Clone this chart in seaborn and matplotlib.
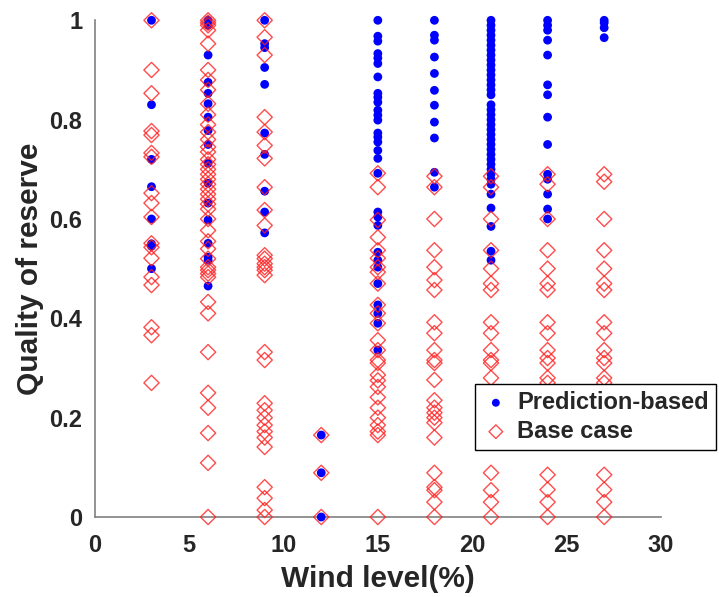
import matplotlib
matplotlib.use("Agg")
import matplotlib.pyplot as plt
import seaborn as sns
import pandas as pd

# ---- data ----
wind_levels = [3, 6, 9, 12, 15, 18, 21, 24, 27]

pred_3 = [1.0, 0.83, 0.72, 0.665, 0.60, 0.55, 0.545, 0.50]
pred_6 = [1.0, 0.99, 0.93, 0.875, 0.853, 0.832, 0.805, 0.778, 0.75, 0.712,
          0.672, 0.632, 0.598, 0.551, 0.523, 0.517, 0.465]
pred_9 = [1.0, 0.953, 0.945, 0.905, 0.871, 0.773, 0.73, 0.656, 0.614, 0.572]
pred_12 = [0.165, 0.089, 0.0]
pred_15 = [1.0, 0.968, 0.958, 0.933, 0.924, 0.913, 0.886, 0.853, 0.845, 0.835,
           0.819, 0.809, 0.799, 0.773, 0.765, 0.755, 0.738, 0.722, 0.692, 0.614,
           0.604, 0.587, 0.533, 0.517, 0.503, 0.47, 0.427, 0.41, 0.39, 0.336]
pred_18 = [1.0, 0.97, 0.96, 0.926, 0.893, 0.859, 0.829, 0.795, 0.763, 0.694, 0.664]
pred_21 = [1.0, 0.99, 0.98, 0.97, 0.96, 0.95, 0.94, 0.93, 0.92, 0.91, 0.90, 0.89,
           0.88, 0.87, 0.86, 0.85, 0.83, 0.82, 0.81, 0.80, 0.79, 0.78, 0.77, 0.76,
           0.75, 0.74, 0.73, 0.72, 0.71, 0.70, 0.69, 0.68, 0.67, 0.65, 0.622,
           0.585, 0.535, 0.517]
pred_24 = [1.0, 0.99, 0.98, 0.96, 0.93, 0.87, 0.85, 0.805, 0.75, 0.69, 0.68,
           0.65, 0.62, 0.60]
pred_27 = [1.0, 0.995, 0.985, 0.965]

base_3 = [1.0, 0.90, 0.853, 0.777, 0.769, 0.733, 0.725, 0.652, 0.632, 0.604,
          0.551, 0.543, 0.521, 0.483, 0.467, 0.382, 0.366, 0.27]
base_6 = [1.0, 0.995, 0.99, 0.98, 0.953, 0.90, 0.88, 0.86, 0.832, 0.81, 0.79,
          0.775, 0.76, 0.745, 0.735, 0.72, 0.71, 0.70, 0.69, 0.68, 0.67, 0.66,
          0.65, 0.64, 0.63, 0.62, 0.60, 0.577, 0.555, 0.54, 0.52, 0.503, 0.497,
          0.49, 0.483, 0.433, 0.41, 0.332, 0.25, 0.22, 0.169, 0.109, 0.0]
base_9 = [1.0, 0.966, 0.93, 0.805, 0.775, 0.748, 0.722, 0.664, 0.618, 0.587,
          0.527, 0.52, 0.51, 0.503, 0.497, 0.487, 0.332, 0.316, 0.229, 0.215,
          0.2, 0.185, 0.172, 0.16, 0.141, 0.06, 0.038, 0.014, 0.0]
base_12 = [0.165, 0.089, 0.0]
base_15 = [0.692, 0.664, 0.598, 0.563, 0.537, 0.521, 0.503, 0.493, 0.47, 0.427,
           0.41, 0.39, 0.356, 0.336, 0.316, 0.31, 0.286, 0.275, 0.262, 0.241,
           0.22, 0.2, 0.185, 0.172, 0.165, 0.0]
base_18 = [0.686, 0.664, 0.60, 0.537, 0.503, 0.477, 0.457, 0.392, 0.37, 0.336,
           0.316, 0.31, 0.276, 0.235, 0.22, 0.21, 0.2, 0.19, 0.16, 0.089, 0.06,
           0.054, 0.03, 0.0]
base_21 = [0.686, 0.664, 0.60, 0.537, 0.50, 0.47, 0.457, 0.392, 0.37, 0.336,
           0.316, 0.31, 0.28, 0.235, 0.21, 0.19, 0.089, 0.054, 0.03, 0.0]
base_24 = [0.69, 0.67, 0.60, 0.537, 0.50, 0.47, 0.457, 0.392, 0.37, 0.336, 0.32,
           0.31, 0.28, 0.27, 0.085, 0.055, 0.03, 0.0]
base_27 = [0.69, 0.675, 0.60, 0.537, 0.50, 0.47, 0.457, 0.392, 0.37, 0.336, 0.32,
           0.31, 0.28, 0.27, 0.085, 0.055, 0.03, 0.0]

pred_cols = [pred_3, pred_6, pred_9, pred_12, pred_15, pred_18, pred_21, pred_24, pred_27]
base_cols = [base_3, base_6, base_9, base_12, base_15, base_18, base_21, base_24, base_27]

x_ticks = [0, 5, 10, 15, 20, 25, 30]
y_ticks = [0, 0.2, 0.4, 0.6, 0.8, 1.0]
y_tick_labels = ["0", "0.2", "0.4", "0.6", "0.8", "1"]


def to_frame(cols):
    xs, ys = [], []
    for w, vals in zip(wind_levels, cols):
        xs += [w] * len(vals)
        ys += vals
    return pd.DataFrame({"wind": xs, "quality": ys})


pred_df = to_frame(pred_cols)
base_df = to_frame(base_cols)

sns.set_style("white")
plt.rcParams["font.family"] = ["Liberation Sans", "DejaVu Sans"]
plt.rcParams["font.weight"] = "bold"

fig = plt.figure(figsize=(7.19, 5.97), dpi=100)
ax = fig.add_axes([0.132, 0.134, 0.787, 0.832])

sns.scatterplot(data=pred_df, x="wind", y="quality", ax=ax, color="#0000ff",
                marker="o", s=40, edgecolor="none", label="Prediction-based",
                clip_on=False, zorder=3)
sns.scatterplot(data=base_df, x="wind", y="quality", ax=ax, facecolor="none",
                edgecolor="#ff2020", marker="D", s=60, linewidth=1.0, alpha=0.8,
                label="Base case", clip_on=False, zorder=4)

ax.set_xlim(0, 30)
ax.set_ylim(0, 1)
ax.set_xticks(x_ticks)
ax.set_yticks(y_ticks)
ax.set_yticklabels(y_tick_labels)
ax.tick_params(axis="both", direction="in", length=5, width=1, colors="#262626",
               labelsize=17, labelcolor="#262626")
ax.tick_params(axis="x", pad=12)
ax.tick_params(axis="y", pad=9)
for lab in ax.get_xticklabels() + ax.get_yticklabels():
    lab.set_fontweight("bold")

for side in ["top", "right"]:
    ax.spines[side].set_visible(False)
for side in ["left", "bottom"]:
    ax.spines[side].set_color("#808080")
    ax.spines[side].set_linewidth(1.2)

ax.set_xlabel("Wind level(%)", fontsize=21.5, fontweight="bold", color="#262626", labelpad=6)
ax.set_ylabel("Quality of reserve", fontsize=21.5, fontweight="bold", color="#262626", labelpad=4)

leg = ax.legend(loc="lower left", bbox_to_anchor=(0.671, 0.135), borderaxespad=0,
                frameon=True, fancybox=False, edgecolor="black", framealpha=1,
                prop={"size": 17, "weight": "bold"}, handletextpad=0.3,
                borderpad=0.3, labelspacing=0.25, handlelength=1.2, markerscale=0.9)
leg.get_frame().set_linewidth(1.0)
leg.set_zorder(10)

fig.savefig("out.png", dpi=100)
